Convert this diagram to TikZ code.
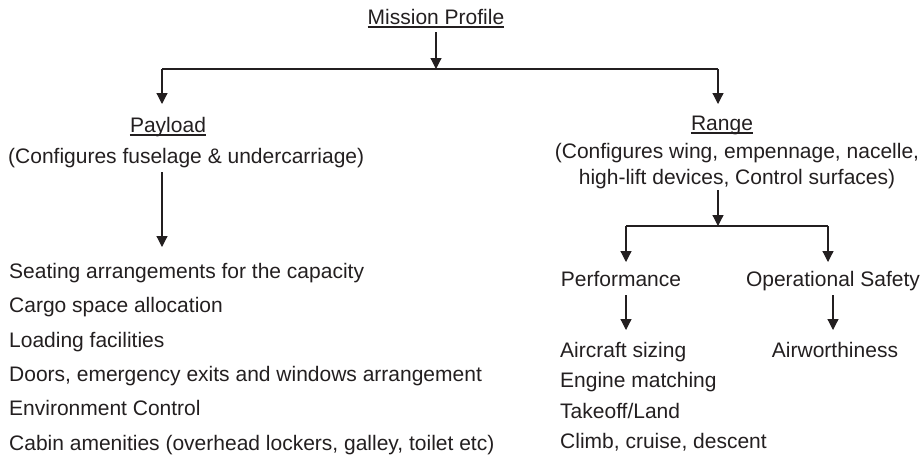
\documentclass[tikz,border=0pt]{standalone}
\usepackage{fontspec}
\setmainfont{Liberation Sans}
\usetikzlibrary{arrows.meta}
\definecolor{ink}{HTML}{231F20}
\begin{document}
\begin{tikzpicture}[x=1pt,y=-1pt,
  txt/.style={inner sep=0pt,text=ink,font=\fontsize{21}{26}\selectfont},
  head/.style={txt,anchor=base},
  item/.style={txt,anchor=base west},
  link/.style={draw=ink,line width=1.2pt},
  arr/.style={link,-{Triangle[width=11pt,length=11pt]}},
  uline/.style={draw=ink,line width=1.2pt}]
\useasboundingbox (0,0) rectangle (924,456);

% headings
\node[head] (mp) at (436,24) {Mission Profile};
\node[head] (pay) at (168,132) {Payload};
\node[item] (payd) at (8,163) {(Configures fuselage \& undercarriage)};
\node[head] (rng) at (722,130) {Range};
% base anchor of a two-line node sits on its last line
\node[head,align=center] (rngd) at (737,184) {(Configures wing, empennage, nacelle,\\high-lift devices, Control surfaces)};
\node[head] (perf) at (621,286) {Performance};
\node[head] (safe) at (833,286) {Operational Safety};

% underlines of the main headings
\foreach \n in {mp,pay,rng}
  \draw[uline] ([yshift=-3pt]\n.base west) -- ([yshift=-3pt]\n.base east);

% payload items
\node[item] (p1) at (9,278) {Seating arrangements for the capacity};
\node[item] (p2) at (9,312.5) {Cargo space allocation};
\node[item] (p3) at (9,347) {Loading facilities};
\node[item] (p4) at (9,381) {Doors, emergency exits and windows arrangement};
\node[item] (p5) at (9,415.5) {Environment Control};
\node[item] (p6) at (9,450) {Cabin amenities (overhead lockers, galley, toilet etc)};

% performance items
\node[item] (r1) at (560,357) {Aircraft sizing};
\node[item] (r2) at (560,387.5) {Engine matching};
\node[item] (r3) at (560,418) {Takeoff/Land};
\node[item] (r4) at (560,448) {Climb, cruise, descent};
\node[head] (aw) at (835,357) {Airworthiness};

% connector points
\coordinate (mpS) at (436,32);
\coordinate (hubM) at (436,69);
\coordinate (hubL) at (162,69);
\coordinate (hubR) at (718,69);
\coordinate (payN) at (162,104);
\coordinate (paydS) at (162,172);
\coordinate (listN) at (162,247);
\coordinate (rngN) at (718,104);
\coordinate (rngdS) at (718,190);
\coordinate (splitM) at (718,226);
\coordinate (splitL) at (626,226);
\coordinate (splitR) at (828,226);
\coordinate (perfN) at (626,262);
\coordinate (safeN) at (828,262);
\coordinate (perfS) at (626,295);
\coordinate (r1N) at (626,330);
\coordinate (safeS) at (833,295);
\coordinate (awN) at (833,330);

% connectors
\draw[arr] (mpS) -- (hubM);
\draw[link] (hubL) -- (hubR);
\draw[arr] (hubL) -- (payN);
\draw[arr] (hubR) -- (rngN);
\draw[arr] (paydS) -- (listN);
\draw[arr] (rngdS) -- (splitM);
\draw[link] (splitL) -- (splitR);
\draw[arr] (splitL) -- (perfN);
\draw[arr] (splitR) -- (safeN);
\draw[arr] (perfS) -- (r1N);
\draw[arr] (safeS) -- (awN);
\end{tikzpicture}
\end{document}
